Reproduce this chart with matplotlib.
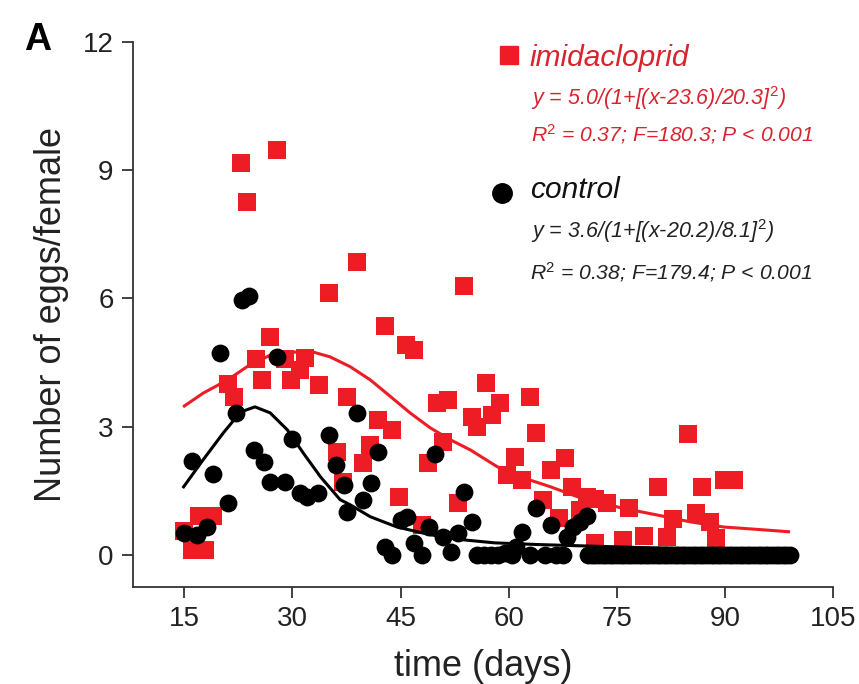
import matplotlib
matplotlib.use("Agg")
import matplotlib.pyplot as plt

plt.rcParams['font.family'] = ['Liberation Sans', 'DejaVu Sans']
plt.rcParams['mathtext.fontset'] = 'custom'
plt.rcParams['mathtext.rm'] = 'Liberation Sans'
plt.rcParams['mathtext.it'] = 'Liberation Sans:italic'

# imidacloprid (red squares)
imi_day = [15.0, 16.1, 17.9, 17.1, 19.0, 21.0, 21.9, 22.9, 23.7, 27.8,
           25.0, 26.9, 25.8, 29.0, 29.8, 31.1, 31.8, 33.7, 35.0, 39.0,
           37.6, 36.2, 37.0, 39.8, 40.8, 41.8, 43.8, 42.9, 45.8, 46.9,
           44.8, 48.0, 48.8, 50.1, 51.6, 50.9, 52.9, 53.8, 54.9, 55.6,
           56.9, 57.7, 58.8, 60.9, 59.8, 61.9, 62.9, 63.8, 64.8, 65.8,
           66.9, 67.8, 68.8, 69.9, 70.9, 71.9, 73.6, 72.0, 75.9, 76.7,
           78.7, 80.7, 81.9, 82.8, 84.8, 85.9, 86.8, 87.9, 88.8, 89.9,
           91.2]
imi_eggs = [0.55, 0.12, 0.12, 0.9, 0.9, 4.0, 3.7, 9.16, 8.25, 9.46,
            4.58, 5.1, 4.1, 4.58, 4.09, 4.32, 4.6, 3.97, 6.12, 6.85,
            3.7, 2.41, 1.71, 2.15, 2.57, 3.15, 2.92, 5.35, 4.9, 4.79,
            1.36, 0.7, 2.15, 3.55, 3.62, 2.64, 1.21, 6.28, 3.22, 3.0,
            4.02, 3.27, 3.55, 2.29, 1.87, 1.75, 3.69, 2.85, 1.29, 1.99,
            0.86, 2.27, 1.59, 1.05, 1.36, 1.3, 1.2, 0.28, 0.35, 1.1,
            0.44, 1.59, 0.42, 0.84, 2.83, 0.98, 1.59, 0.77, 0.4, 1.75,
            1.75]

# control (black circles)
ctl_day = [14.9, 16.8, 18.2, 16.0, 19.0, 21.0, 22.1, 19.9, 23.0, 24.0,
           27.9, 24.7, 26.0, 26.9, 29.0, 29.9, 31.0, 32.0, 33.6, 35.0,
           36.0, 37.1, 37.6, 38.9, 39.8, 40.9, 41.9, 42.9, 43.8, 45.0,
           45.9, 46.8, 48.0, 49.0, 49.8, 50.9, 52.0, 53.0, 53.8, 54.9,
           55.6, 56.5, 57.5, 58.5, 59.5, 60.5, 61.0, 61.9, 63.0, 63.8, 65.0,
           65.8, 66.5, 67.5, 68.1, 68.9, 69.9, 70.9,
           71, 71.5, 72, 72.5, 73, 73.5, 74, 74.5, 75, 75.5, 76, 76.5, 77,
           77.5, 78, 78.5, 79, 79.5, 80, 80.5, 81, 81.5, 82, 82.5, 83, 83.5,
           84, 84.5, 85, 85.5, 86, 86.5, 87, 87.5, 88, 88.5, 89, 89.5, 90,
           90.5, 91, 91.5, 92, 92.5, 93, 93.5, 94, 94.5, 95, 95.5, 96, 96.5,
           97, 97.5, 98, 98.5, 99]
ctl_eggs = [0.51, 0.47, 0.65, 2.2, 1.89, 1.22, 3.32, 4.72, 5.96, 6.05,
            4.63, 2.45, 2.17, 1.71, 1.71, 2.71, 1.45, 1.36, 1.45, 2.8,
            2.1, 1.64, 1.0, 3.32, 1.29, 1.68, 2.41, 0.19, 0.0, 0.82,
            0.89, 0.28, 0.0, 0.65, 2.36, 0.42, 0.07, 0.51, 1.47, 0.77,
            0.0, 0.0, 0.0, 0.0, 0.05, 0.0, 0.19, 0.54, 0.0, 1.1, 0.0,
            0.7, 0.0, 0.0, 0.42, 0.65, 0.77, 0.91,
            0, 0, 0, 0, 0, 0, 0, 0, 0, 0, 0, 0, 0,
            0, 0, 0, 0, 0, 0, 0, 0, 0, 0, 0, 0, 0,
            0, 0, 0, 0, 0, 0, 0, 0, 0, 0, 0, 0, 0,
            0, 0, 0, 0, 0, 0, 0, 0, 0, 0, 0, 0, 0,
            0, 0, 0, 0, 0]

# fitted curves as drawn in the figure
imi_fit_day = [15.0, 17.6, 21.0, 23.7, 26.9, 30.1, 32.9, 35.2, 38.0, 40.8,
               43.6, 46.3, 49.1, 51.9, 54.7, 58.4, 62.0, 65.8, 69.5, 73.1,
               75.5, 80.6, 85.2, 89.8, 94.0, 98.8]
imi_fit_eggs = [3.48, 3.78, 4.09, 4.4, 4.67, 4.74, 4.74, 4.63, 4.4, 4.09,
                3.7, 3.32, 2.97, 2.69, 2.45, 2.06, 1.8, 1.59, 1.36, 1.21,
                1.1, 0.93, 0.77, 0.65, 0.6, 0.54]
ctl_fit_day = [14.9, 17.6, 20.4, 22.8, 24.8, 26.9, 29.3, 31.5, 33.9, 36.6,
               38.0, 40.8, 44.5, 49.1, 53.7, 58.0, 64.0, 70.0, 74.1, 80.0,
               90.0, 99.0]
ctl_fit_eggs = [1.59, 2.22, 2.85, 3.34, 3.46, 3.32, 2.92, 2.38, 1.82, 1.29,
                1.17, 0.89, 0.65, 0.47, 0.35, 0.28, 0.24, 0.21, 0.19, 0.16,
                0.13, 0.11]

red = '#ee1c24'
txt_red = '#d9232e'

fig = plt.figure(figsize=(8.59, 6.84), dpi=100)
ax = fig.add_axes([0.155, 0.142, 0.815, 0.797])

ax.scatter(imi_day, imi_eggs, marker='s', s=150, color=red, linewidths=0, zorder=2)
ax.plot(imi_fit_day, imi_fit_eggs, color=red, lw=2.2, zorder=3)
ax.scatter(ctl_day, ctl_eggs, marker='o', s=165, color='black', linewidths=0, zorder=4)
ax.plot(ctl_fit_day, ctl_fit_eggs, color='black', lw=2.2, zorder=5)

ax.set_xlim(7.9, 105)
ax.set_ylim(-0.75, 12)
ax.set_xticks([15, 30, 45, 60, 75, 90, 105])
ax.set_yticks([0, 3, 6, 9, 12])
for s in ['top', 'right']:
    ax.spines[s].set_visible(False)
for s in ['left', 'bottom']:
    ax.spines[s].set_linewidth(1.3)
    ax.spines[s].set_color('#333333')
ax.tick_params(direction='out', length=8, width=1.3, color='#333333',
               labelsize=20, labelcolor='#222222', pad=6)
ax.set_xlabel('time (days)', fontsize=26, color='#222222', labelpad=12)
ax.set_ylabel('Number of eggs/female', fontsize=26, color='#222222', labelpad=10)

fig.text(38 / 859, 1 - 40 / 684, 'A', fontsize=27, fontweight='bold', ha='center', va='center')

# legend block with fit equations
def px(x, y):
    return x / 859, 1 - y / 684

fig.add_artist(plt.Line2D([509 / 859], [1 - 55 / 684], marker='s', markersize=12.5,
                          color=red, linestyle='none'))
fig.add_artist(plt.Line2D([502 / 859], [1 - 193 / 684], marker='o', markersize=14,
                          color='black', linestyle='none'))
fig.text(*px(530, 58), 'imidacloprid', fontsize=21.5, style='italic', color=txt_red, va='center')
fig.text(*px(531, 98), r'y = 5.0/(1+[(x-23.6)/20.3]$^2$)', fontsize=15.5, style='italic',
         color=txt_red, va='center')
fig.text(*px(531, 134), r'R$^2$ = 0.37; F=180.3; P < 0.001', fontsize=15.2, style='italic',
         color=txt_red, va='center')
fig.text(*px(530, 190), 'control', fontsize=21.5, style='italic', color='#111111', va='center')
fig.text(*px(531, 231), r'y = 3.6/(1+[(x-20.2)/8.1]$^2$)', fontsize=15.5, style='italic',
         color='#222222', va='center')
fig.text(*px(530, 272), r'R$^2$ = 0.38; F=179.4; P < 0.001', fontsize=15.2, style='italic',
         color='#222222', va='center')

fig.savefig('out.png', dpi=100)
